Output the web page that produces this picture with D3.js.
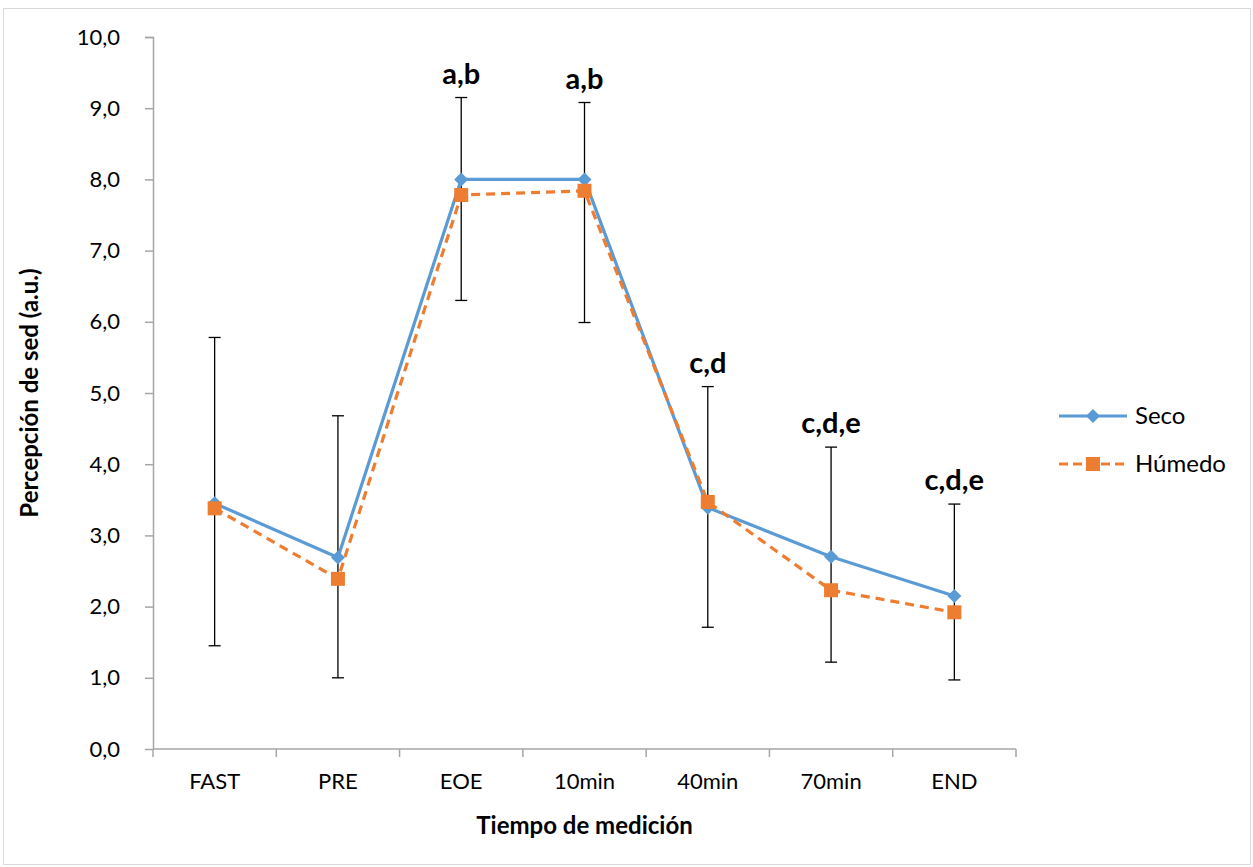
<!DOCTYPE html>
<html>
<head>
<meta charset="utf-8">
<script src="https://cdn.jsdelivr.net/npm/d3@7"></script>
<style>
  body { margin: 0; background: #fff; }
  text { font-family: Lato, "Open Sans", sans-serif; }
</style>
</head>
<body>
<div id="container"></div>
<script>
// data
var categories = ["FAST", "PRE", "EOE", "10min", "40min", "70min", "END"];
var seco = [3.45, 2.69, 8.0, 8.0, 3.39, 2.70, 2.15];
var humedo = [3.38, 2.39, 7.78, 7.84, 3.47, 2.23, 1.92];
var errTop = [5.78, 4.68, 9.15, 9.08, 5.09, 4.24, 3.44];
var errBottom = [1.45, 1.00, 6.30, 5.99, 1.71, 1.22, 0.97];
var sigLabels = ["", "", "a,b", "a,b", "c,d", "c,d,e", "c,d,e"];
var yTicks = [0, 1, 2, 3, 4, 5, 6, 7, 8, 9, 10];

var W = 1253, H = 867;
var margin = {top: 37, left: 153, right: 237, bottom: 118};
var width = 1016 - margin.left,
    height = 749 - margin.top;

var svg = d3.select("#container").append("svg")
  .attr("width", W).attr("height", H);

// chart frame
svg.append("rect")
  .attr("x", 3.5).attr("y", 8.5)
  .attr("width", W - 6).attr("height", H - 11)
  .attr("fill", "none").attr("stroke", "#d9d9d9").attr("stroke-width", 1);

var g = svg.append("g").attr("transform", "translate(" + margin.left + "," + margin.top + ")");

var xScale = d3.scaleBand().domain(categories).range([0, width]).padding(0);
var yScale = d3.scaleLinear().domain([0, 10]).range([height, 0]);
var cx = function(i) { return xScale(categories[i]) + xScale.bandwidth() / 2; };

// y axis
var yAxis = d3.axisLeft(yScale).tickValues(yTicks).tickSize(8).tickPadding(25)
  .tickFormat(function(d) { return d3.format(".1f")(d).replace(".", ","); });
var gy = g.append("g").call(yAxis);
gy.select(".domain").attr("stroke", "#a6a6a6").attr("stroke-width", 1.5).attr("d", "M-8,0.5H0.5V" + height);
gy.selectAll(".tick line").attr("stroke", "#a6a6a6").attr("stroke-width", 1.5);
gy.selectAll(".tick text").style("font-size", "22px").attr("fill", "#000");

// x axis
var gx = g.append("g").attr("transform", "translate(0," + height + ")")
  .call(d3.axisBottom(xScale).tickSize(0).tickPadding(24));
gx.select(".domain").attr("stroke", "#a6a6a6").attr("stroke-width", 1.5).attr("d", "M0,0H" + width);
gx.selectAll(".tick text").style("font-size", "22px").attr("fill", "#000");
gx.selectAll(".sep").data(d3.range(categories.length + 1)).enter().append("line")
  .attr("x1", function(d) { return d * xScale.bandwidth(); })
  .attr("x2", function(d) { return d * xScale.bandwidth(); })
  .attr("y1", 0).attr("y2", 8)
  .attr("stroke", "#a6a6a6").attr("stroke-width", 1.5);

// axis titles
svg.append("text")
  .attr("transform", "translate(38," + (margin.top + height / 2) + ") rotate(-90)")
  .attr("text-anchor", "middle")
  .style("font-size", "24px").style("font-weight", "bold")
  .text("Percepción de sed (a.u.)");
svg.append("text")
  .attr("x", margin.left + width / 2 + 0).attr("y", 834)
  .attr("text-anchor", "middle")
  .style("font-size", "24px").style("font-weight", "bold")
  .text("Tiempo de medición");

// error bars
var eb = g.append("g");
categories.forEach(function(c, i) {
  var x = cx(i);
  eb.append("line").attr("x1", x).attr("x2", x)
    .attr("y1", yScale(errTop[i])).attr("y2", yScale(errBottom[i]))
    .attr("stroke", "#000").attr("stroke-width", 1.3);
  [errTop[i], errBottom[i]].forEach(function(v) {
    eb.append("line").attr("x1", x - 6).attr("x2", x + 6)
      .attr("y1", yScale(v)).attr("y2", yScale(v))
      .attr("stroke", "#000").attr("stroke-width", 1.3);
  });
});

var line = d3.line().x(function(d, i) { return cx(i); }).y(function(d) { return yScale(d); });

// Seco
g.append("path").datum(seco).attr("d", line)
  .attr("fill", "none").attr("stroke", "#5b9bd5").attr("stroke-width", 3.2)
  .attr("stroke-linejoin", "round");
g.selectAll(".dia").data(seco).enter().append("path")
  .attr("transform", function(d, i) { return "translate(" + cx(i) + "," + yScale(d) + ")"; })
  .attr("d", "M0,-7L7,0L0,7L-7,0Z").attr("fill", "#5b9bd5");

// Húmedo
g.append("path").datum(humedo).attr("d", line)
  .attr("fill", "none").attr("stroke", "#ed7d31").attr("stroke-width", 3.2)
  .attr("stroke-dasharray", "9,6").attr("stroke-linejoin", "round");
g.selectAll(".sq").data(humedo).enter().append("rect")
  .attr("x", function(d, i) { return cx(i) - 7; })
  .attr("y", function(d) { return yScale(d) - 7; })
  .attr("width", 14).attr("height", 14).attr("fill", "#ed7d31");

// significance labels
g.selectAll(".sig").data(sigLabels).enter().append("text")
  .attr("x", function(d, i) { return cx(i); })
  .attr("y", function(d, i) { return yScale(errTop[i]) - 14; })
  .attr("text-anchor", "middle")
  .style("font-size", "29px").style("font-weight", "bold")
  .text(function(d) { return d; });

// legend
var legend = svg.append("g").attr("transform", "translate(1059,0)");
[{name: "Seco", color: "#5b9bd5", dash: null, y: 416},
 {name: "Húmedo", color: "#ed7d31", dash: "9,5", y: 464}].forEach(function(s) {
  legend.append("line").attr("x1", 0).attr("x2", 68).attr("y1", s.y).attr("y2", s.y)
    .attr("stroke", s.color).attr("stroke-width", 3.2)
    .attr("stroke-dasharray", s.dash);
  if (s.dash) {
    legend.append("rect").attr("x", 27).attr("y", s.y - 7).attr("width", 14).attr("height", 14).attr("fill", s.color);
  } else {
    legend.append("path").attr("transform", "translate(34," + s.y + ")")
      .attr("d", "M0,-7L7,0L0,7L-7,0Z").attr("fill", s.color);
  }
  legend.append("text").attr("x", 76).attr("y", s.y + 8)
    .style("font-size", "24px").text(s.name);
});
</script>
</body>
</html>
